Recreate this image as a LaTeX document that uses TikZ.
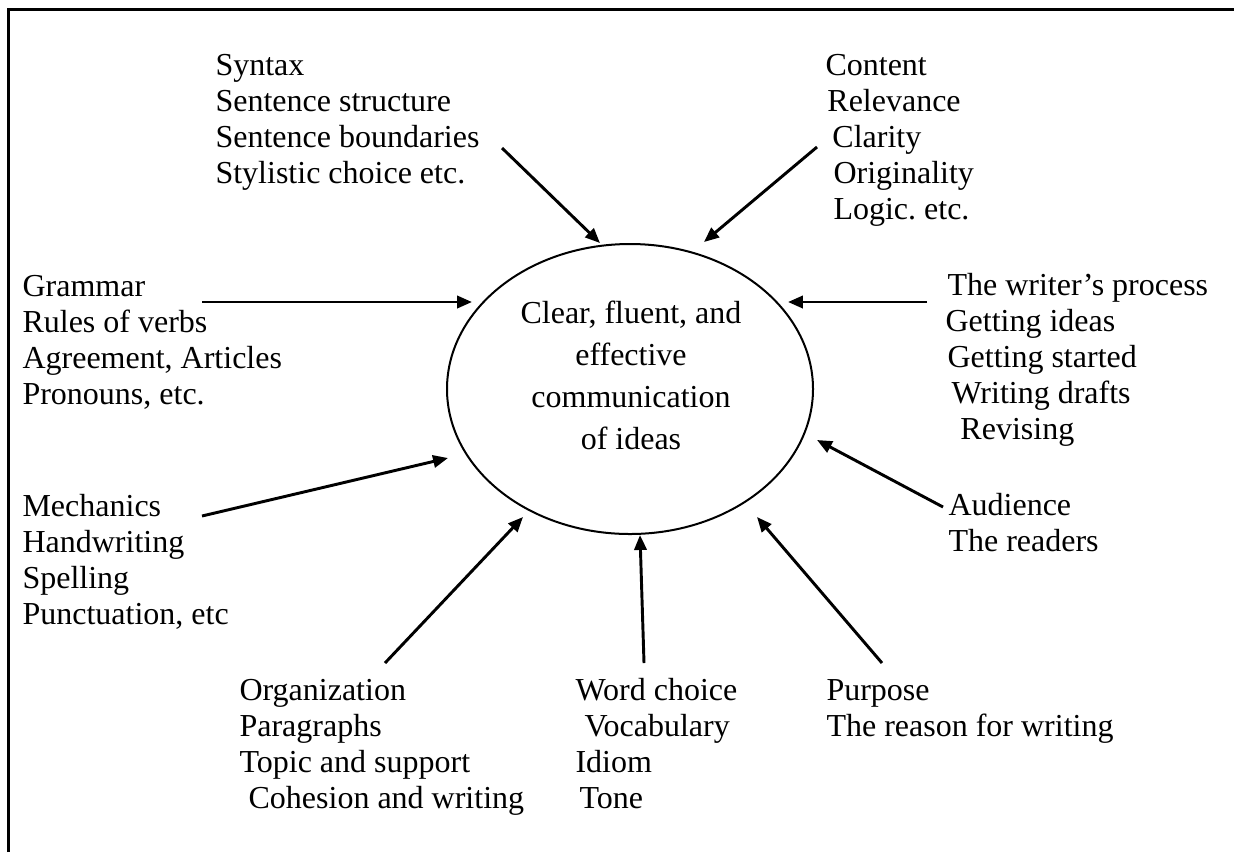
\documentclass[tikz,border=0pt]{standalone}
\usepackage{fontspec}
\setmainfont{Liberation Serif}
\usetikzlibrary{arrows.meta,shapes.geometric}
\frenchspacing

\begin{document}
\begin{tikzpicture}[
		x=0.375pt, y=-0.375pt,
		>={Triangle[length=5.6pt,width=4.6pt]},
		frame/.style={line width=1.1pt},
		hub/.style={draw, ellipse, line width=0.75pt, minimum width=137.25pt, minimum height=108.75pt, inner sep=0pt},
		hubtext/.style={anchor=north, inner sep=0pt, align=center, font=\fontsize{12}{15.75}\selectfont},
		items/.style={anchor=north west, inner sep=0pt, align=left, font=\fontsize{12}{13.5}\selectfont},
		link/.style={->, line width=1.1pt},
	]
	\useasboundingbox (0,0) rectangle (1234,852);

	% ---------- frame ----------
	\draw[frame] (8.5,852) -- (8.5,9.5) -- (1234,9.5);

	% ---------- centre ----------
	\node[hub] (hub) at (630,389) {};
	\node[hubtext] (hubtext) at (631,293.6)
	{\strut Clear, fluent, and\\effective\\communication\\of ideas};

	% ---------- factors ----------
	\node[items] (syntax) at (215,49.8)
	{\strut Syntax\\Sentence structure\\Sentence boundaries\\Stylistic choice etc.};
	\node[items] (content) at (825,49.8)
	{\strut Content\\\hspace*{0.7pt}Relevance\\\hspace*{2.6pt}Clarity\\\hspace*{3pt}Originality\\\hspace*{3pt}Logic. etc.};
	\node[items] (grammar) at (22,270.8)
	{\strut Grammar\\Rules of verbs\\Agreement, Articles\\Pronouns, etc.};
	\node[items] (process) at (945,269.8)
	{\strut\hspace*{0.75pt}The writer’s process\\Getting ideas\\\hspace*{0.75pt}Getting started\\\hspace*{2.25pt}Writing drafts\\\hspace*{5.6pt}Revising};
	\node[items] (mechanics) at (22,490.8)
	{\strut Mechanics\\Handwriting\\Spelling\\Punctuation, etc};
	\node[items] (audience) at (948,489.8)
	{\strut Audience\\The readers};
	\node[items] (organization) at (239,674.8)
	{\strut Organization\\Paragraphs\\Topic and support\\\hspace*{3.4pt}Cohesion and writing};
	\node[items] (wordchoice) at (575,674.8)
	{\strut Word choice\\\hspace*{3.4pt}Vocabulary\\Idiom\\\hspace*{1.5pt}Tone};
	\node[items] (purpose) at (826,674.8)
	{\strut Purpose\\The reason for writing};

	% ---------- arrows ----------
	\coordinate (syntax-from) at (502,148);
	\coordinate (syntax-to) at (600,243);
	\coordinate (content-from) at (817,147);
	\coordinate (content-to) at (704,242);
	\coordinate (grammar-from) at (202,302);
	\coordinate (grammar-to) at (472,302);
	\coordinate (process-from) at (927,302);
	\coordinate (process-to) at (788,302);
	\coordinate (mechanics-from) at (202,516);
	\coordinate (mechanics-to) at (448,458);
	\coordinate (audience-from) at (943,507);
	\coordinate (audience-to) at (817,440);
	\coordinate (organization-from) at (385,663);
	\coordinate (organization-to) at (523,517);
	\coordinate (wordchoice-from) at (644,663);
	\coordinate (wordchoice-to) at (640,535);
	\coordinate (purpose-from) at (882,663);
	\coordinate (purpose-to) at (757,517);

	\foreach \f in {syntax,content,grammar,process,mechanics,audience,organization,wordchoice,purpose}
		\draw[link] (\f-from) -- (\f-to);

\end{tikzpicture}
\end{document}
